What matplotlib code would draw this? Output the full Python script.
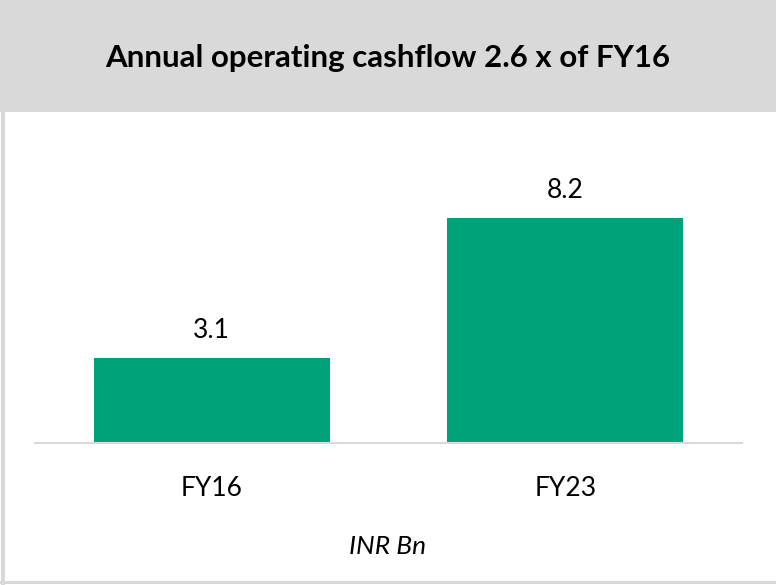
import matplotlib.pyplot as plt
from matplotlib.patches import Rectangle

categories = ['FY16', 'FY23']
values = [3.1, 8.2]
title = 'Annual operating cashflow 2.6 x of FY16'
unit_label = 'INR Bn'

green = '#00A27A'
grey = '#D9D9D9'

plt.rcParams['font.family'] = ['Lato', 'DejaVu Sans']

fig = plt.figure(figsize=(7.76, 5.85), dpi=100)
W, H = 776, 585

# header band and frame
fig.patches.append(Rectangle((0, 1 - 112 / H), 1, 112 / H, transform=fig.transFigure,
                             facecolor=grey, edgecolor='none', zorder=0))
fig.patches.append(Rectangle((1 / W, 0), 4 / W, 1, transform=fig.transFigure,
                             facecolor=grey, edgecolor='none', zorder=0))
fig.patches.append(Rectangle((0, 1 / H), 1, 3 / H, transform=fig.transFigure,
                             facecolor=grey, edgecolor='none', zorder=0))
fig.text(0.5, 1 - 67 / H, title, ha='center', va='baseline', fontsize=22.5, fontweight='bold', color='black')

ax = fig.add_axes([35 / W, (H - 443) / H, 707 / W, 274 / H])
x = range(len(categories))
bars = ax.bar(x, values, width=0.667, color=green, zorder=2)
ax.set_xlim(-0.5, 1.5)
ax.set_ylim(0, 10)
for s in ['top', 'right', 'left']:
    ax.spines[s].set_visible(False)
ax.spines['bottom'].set_color('#D9D9D9')
ax.spines['bottom'].set_linewidth(1.5)
ax.set_yticks([])
ax.set_xticks(list(x))
ax.set_xticklabels(categories, fontsize=19)
for lbl in ax.get_xticklabels():
    lbl.set_va('baseline')
ax.tick_params(axis='x', length=0, pad=38.5)
for b, v in zip(bars, values):
    ax.annotate(f'{v:.1f}', (b.get_x() + b.get_width() / 2, v), xytext=(0, 14.5),
                textcoords='offset points', ha='center', va='baseline', fontsize=19)
ax.patch.set_alpha(0)

fig.text(0.5, (H - 554) / H, unit_label, ha='center', va='baseline', fontsize=19, style='italic')

fig.savefig('out.png', dpi=100)
